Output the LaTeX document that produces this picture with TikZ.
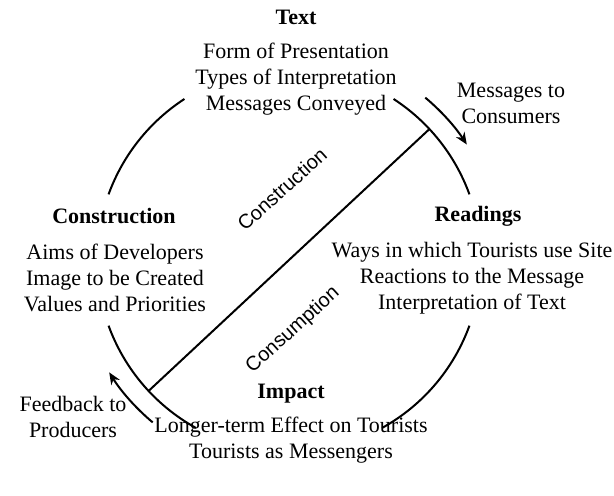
\documentclass[tikz,border=0pt]{standalone}
\usepackage{fontspec}
\setmainfont{Liberation Serif}
\setsansfont{Liberation Sans}
\usetikzlibrary{arrows.meta}

\begin{document}
\begin{tikzpicture}[x=0.5pt,y=0.5pt,line width=1pt,
    head/.style={font=\fontsize{11}{13}\selectfont\bfseries},
    body/.style={align=center,font=\fontsize{11}{13}\selectfont},
    stage/.style={font=\sffamily\fontsize{10}{12}\selectfont,rotate=42},
    flow/.style={-{Stealth[length=6pt,width=5pt]}}]

		\useasboundingbox (-289,-235) rectangle (325,260);

		% the cycle, broken where the headings sit
		\draw (20:192) arc[start angle=20,end angle=57,radius=96pt];
		\draw (123:192) arc[start angle=123,end angle=160,radius=96pt];
		\draw (200:192) arc[start angle=200,end angle=241,radius=96pt];
		\draw (299:192) arc[start angle=299,end angle=340,radius=96pt];

		\coordinate (top) at (43:192);
		\coordinate (bot) at (223:192);
		\draw (bot) -- (top);

		% messages out and feedback back
		\coordinate (out) at (50:212);
		\coordinate (back) at (230:212);
		\draw[flow] (out) arc[start angle=50,end angle=33,radius=106pt];
		\draw[flow] (back) arc[start angle=230,end angle=212,radius=106pt];

		\node[head] (text) at (7,243) {Text};
		\node[body] (textb) at (7,181) {Form of Presentation\\Types of Interpretation\\Messages Conveyed};

		\node[head] (constr) at (-175,44) {Construction};
		\node[body] (constrb) at (-174,-18) {Aims of Developers\\Image to be Created\\Values and Priorities};

		\node[head] (read) at (189,44) {Readings};
		\node[body] (readb) at (183,-18) {Ways in which Tourists use Site\\Reactions to the Message\\Interpretation of Text};

		\node[head] (impact) at (2,-134) {Impact};
		\node[body] (impactb) at (2,-180) {Longer-term Effect on Tourists\\Tourists as Messengers};

		\node[body] (tocons) at (222,157) {Messages to\\Consumers};
		\node[body] (toprod) at (-216,-157) {Feedback to\\Producers};

		\node[stage] (making) at (-7,71) {Construction};
		\node[stage] (using) at (4,-70) {Consumption};

	\end{tikzpicture}
\end{document}
